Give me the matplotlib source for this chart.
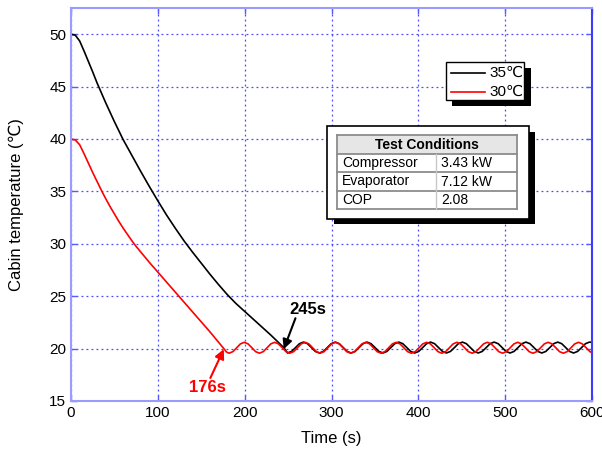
import matplotlib
matplotlib.use("Agg")
from matplotlib import pyplot as plt
from matplotlib.patches import Rectangle

# 35 C run: pull-down then on/off cycling
t_35 = [0, 5, 10, 15, 20, 25, 30, 35, 40, 45, 50, 55, 60, 70, 80, 90, 100,
        110, 120, 130, 140, 150, 160, 170, 180, 190, 200, 210, 220, 230, 240, 245,
        249.4, 254.0, 258.6, 263.1, 267.7, 272.3, 276.9, 281.4,
        286.0, 290.6, 295.2, 299.7, 304.3, 308.9, 313.5, 318.0,
        322.6, 327.2, 331.8, 336.3, 340.9, 345.5, 350.1, 354.6,
        359.2, 363.8, 368.4, 372.9, 377.5, 382.1, 386.7, 391.2,
        395.8, 400.4, 405.0, 409.5, 414.1, 418.7, 423.3, 427.8,
        432.4, 437.0, 441.6, 446.1, 450.7, 455.3, 459.9, 464.4,
        469.0, 473.6, 478.2, 482.7, 487.3, 491.9, 496.5, 501.0,
        505.6, 510.2, 514.8, 519.3, 523.9, 528.5, 533.1, 537.6,
        542.2, 546.8, 551.4, 555.9, 560.5, 565.1, 569.7, 574.2,
        578.8, 583.4, 588.0, 592.5, 597.1, 600]
T_35 = [50.0, 49.9, 49.35, 48.4, 47.4, 46.4, 45.35, 44.4, 43.45, 42.55, 41.65,
        40.8, 39.95, 38.45, 36.95, 35.5, 34.1, 32.75, 31.5, 30.3, 29.2, 28.15,
        27.1, 26.1, 25.15, 24.3, 23.55, 22.8, 22.05, 21.3, 20.5, 20.1,
        19.58, 19.73, 20.1, 20.47, 20.62, 20.47, 20.1, 19.73,
        19.58, 19.73, 20.1, 20.47, 20.62, 20.47, 20.1, 19.73,
        19.58, 19.73, 20.1, 20.47, 20.62, 20.47, 20.1, 19.73,
        19.58, 19.73, 20.1, 20.47, 20.62, 20.47, 20.1, 19.73,
        19.58, 19.73, 20.1, 20.47, 20.62, 20.47, 20.1, 19.73,
        19.58, 19.73, 20.1, 20.47, 20.62, 20.47, 20.1, 19.73,
        19.58, 19.73, 20.1, 20.47, 20.62, 20.47, 20.1, 19.73,
        19.58, 19.73, 20.1, 20.47, 20.62, 20.47, 20.1, 19.73,
        19.58, 19.73, 20.1, 20.47, 20.62, 20.47, 20.1, 19.73,
        19.58, 19.73, 20.1, 20.47, 20.62, 20.6]

# 30 C run
t_30 = [0, 5, 10, 15, 20, 25, 30, 35, 40, 45, 50, 55, 60, 65, 70, 75, 80, 90,
        100, 110, 120, 130, 140, 150, 160, 170, 176, 179,
        182, 186.4, 190.8, 195.1, 199.5, 203.9, 208.3, 212.6,
        217, 221.4, 225.8, 230.1, 234.5, 238.9, 243.3, 247.6,
        252, 256.4, 260.8, 265.1, 269.5, 273.9, 278.3, 282.6,
        287, 291.4, 295.8, 300.1, 304.5, 308.9, 313.3, 317.6,
        322, 326.4, 330.8, 335.1, 339.5, 343.9, 348.3, 352.6,
        357, 361.4, 365.8, 370.1, 374.5, 378.9, 383.3, 387.6,
        392, 396.4, 400.8, 405.1, 409.5, 413.9, 418.3, 422.6,
        427, 431.4, 435.8, 440.1, 444.5, 448.9, 453.3, 457.6,
        462, 466.4, 470.8, 475.1, 479.5, 483.9, 488.3, 492.6,
        497, 501.4, 505.8, 510.1, 514.5, 518.9, 523.3, 527.6,
        532, 536.4, 540.8, 545.1, 549.5, 553.9, 558.3, 562.6,
        567, 571.4, 575.8, 580.1, 584.5, 588.9, 593.3, 597.6, 600]
T_30 = [40.0, 39.9, 39.45, 38.6, 37.7, 36.8, 35.95, 35.1, 34.3, 33.55, 32.85,
        32.15, 31.5, 30.9, 30.3, 29.75, 29.25, 28.25, 27.3, 26.35, 25.4, 24.45,
        23.5, 22.55, 21.6, 20.6, 20.0, 19.68,
        19.56, 19.71, 20.08, 20.45, 20.6, 20.45, 20.08, 19.71,
        19.56, 19.71, 20.08, 20.45, 20.6, 20.45, 20.08, 19.71,
        19.56, 19.71, 20.08, 20.45, 20.6, 20.45, 20.08, 19.71,
        19.56, 19.71, 20.08, 20.45, 20.6, 20.45, 20.08, 19.71,
        19.56, 19.71, 20.08, 20.45, 20.6, 20.45, 20.08, 19.71,
        19.56, 19.71, 20.08, 20.45, 20.6, 20.45, 20.08, 19.71,
        19.56, 19.71, 20.08, 20.45, 20.6, 20.45, 20.08, 19.71,
        19.56, 19.71, 20.08, 20.45, 20.6, 20.45, 20.08, 19.71,
        19.56, 19.71, 20.08, 20.45, 20.6, 20.45, 20.08, 19.71,
        19.56, 19.71, 20.08, 20.45, 20.6, 20.45, 20.08, 19.71,
        19.56, 19.71, 20.08, 20.45, 20.6, 20.45, 20.08, 19.71,
        19.56, 19.71, 20.08, 20.45, 20.6, 20.45, 20.08, 19.71, 19.62]

labels = ['35\u2103', '30\u2103']
table_rows = [('Compressor', '3.43 kW'), ('Evaporator', '7.12 kW'), ('COP', '2.08')]

W, H = 602, 455
plt.rcParams['font.family'] = ['Liberation Sans', 'DejaVu Sans']

fig = plt.figure(figsize=(W / 100, H / 100), dpi=100)
ax = fig.add_axes([71 / W, 1 - 401 / H, (592 - 71) / W, (401 - 8) / H])


def fx(x):
    return x / W


def fy(y):
    return 1 - y / H


l35, = ax.plot(t_35, T_35, color='black', lw=1.2)
l30, = ax.plot(t_30, T_30, color='#ff0000', lw=1.2)

ax.set_xlim(0, 600)
ax.set_ylim(15, 52.5)
ax.set_xticks([0, 100, 200, 300, 400, 500, 600])
ax.set_yticks([15, 20, 25, 30, 35, 40, 45, 50])
ax.grid(True, color='#4a4aff', linestyle=(0, (1.5, 2.5)), lw=0.9)
ax.tick_params(direction='in', colors='#5a5aff', labelcolor='black', labelsize=11,
               length=4, width=1, top=True, right=True)
for side in ['left', 'bottom', 'top']:
    ax.spines[side].set_color('#9a9aff')
    ax.spines[side].set_linewidth(1.5)
ax.spines['right'].set_color('#3c3cff')
ax.spines['right'].set_linewidth(1.5)

ax.set_xlabel('Time (s)', fontsize=12, labelpad=8)
ax.set_ylabel('Cabin temperature (\u2103)', fontsize=12, labelpad=18)

# arrows pointing at the moment each run first reaches 20 C
ax.annotate('', xy=(245, 19.95), xytext=(258.5, 22.9),
            arrowprops=dict(arrowstyle='-|>', color='black', lw=1.5,
                            shrinkA=0, shrinkB=0, mutation_scale=14))
ax.text(273, 23.75, '245s', fontsize=12, fontweight='bold', color='black',
        ha='center', va='center')
ax.annotate('', xy=(176, 19.95), xytext=(160.5, 17.2),
            arrowprops=dict(arrowstyle='-|>', color='#ff0000', lw=1.5,
                            shrinkA=0, shrinkB=0, mutation_scale=14))
ax.text(157, 16.25, '176s', fontsize=12, fontweight='bold', color='#ff0000',
        ha='center', va='center')

# legend box with solid black shadow
fig.patches.append(Rectangle((fx(452), fy(106)), (531 - 452) / W, (106 - 68) / H,
                             transform=fig.transFigure, facecolor='black', zorder=5))
fig.patches.append(Rectangle((fx(446), fy(100)), (524 - 446) / W, (100 - 62) / H,
                             transform=fig.transFigure, facecolor='white',
                             edgecolor='black', lw=1, zorder=6))
for i, (line, lab) in enumerate(zip([l35, l30], labels)):
    yy = fy(72.5 + i * 19)
    fig.add_artist(plt.Line2D([fx(451), fx(485)], [yy, yy], color=line.get_color(),
                              lw=1.2, transform=fig.transFigure, zorder=7))
    fig.text(fx(489), yy, lab, fontsize=11, va='center', ha='left', zorder=7)

# test conditions box
fig.patches.append(Rectangle((fx(334), fy(224)), (535 - 334) / W, (224 - 132) / H,
                             transform=fig.transFigure, facecolor='black', zorder=5))
fig.patches.append(Rectangle((fx(327), fy(219)), (529 - 327) / W, (219 - 126) / H,
                             transform=fig.transFigure, facecolor='white',
                             edgecolor='black', lw=1.2, zorder=6))
fig.patches.append(Rectangle((fx(337), fy(154)), (517 - 337) / W, (154 - 135) / H,
                             transform=fig.transFigure, facecolor='#e6e6e6',
                             edgecolor='none', zorder=6))
grey = '#8c8c8c'
for yy in [135, 154, 172, 191, 209]:
    fig.add_artist(plt.Line2D([fx(337), fx(517)], [fy(yy), fy(yy)], color=grey,
                              lw=1.3, transform=fig.transFigure, zorder=7))
for xx in [337, 517]:
    fig.add_artist(plt.Line2D([fx(xx), fx(xx)], [fy(135), fy(209)], color=grey,
                              lw=1.3, transform=fig.transFigure, zorder=7))
fig.add_artist(plt.Line2D([fx(436), fx(436)], [fy(154), fy(209)], color='#c8c8c8',
                          lw=1.0, transform=fig.transFigure, zorder=7))
fig.text(fx(427), fy(145), 'Test Conditions', fontsize=10, fontweight='bold',
         ha='center', va='center', zorder=8)
for i, (name, val) in enumerate(table_rows):
    yy = fy(163 + i * 18.5)
    fig.text(fx(342), yy, name, fontsize=10, ha='left', va='center', zorder=8)
    fig.text(fx(441), yy, val, fontsize=10, ha='left', va='center', zorder=8)

plt.savefig('out.png', dpi=100)
